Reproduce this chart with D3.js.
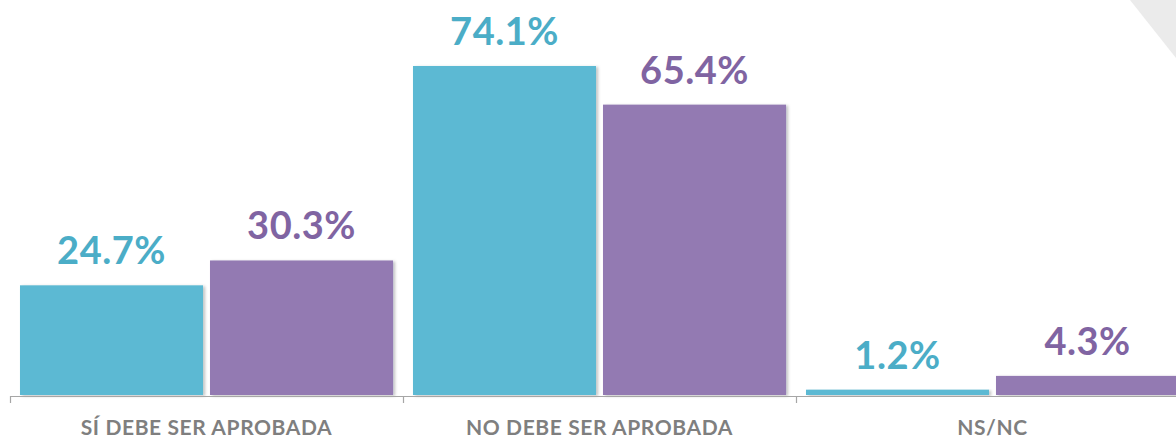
<!DOCTYPE html>
<html>
<head>
<meta charset="utf-8">
<script src="https://cdn.jsdelivr.net/npm/d3@7"></script>
<style>
  body { margin: 0; background: #fff; }
  svg { display: block; font-family: 'Lato', 'Open Sans', sans-serif; }
</style>
</head>
<body>
<div id="vis"></div>
<script>
var categories = ['SÍ DEBE SER APROBADA', 'NO DEBE SER APROBADA', 'NS/NC'];
var seriesNames = ['2019', '2020'];
var seriesA = [24.7, 74.1, 1.2];
var seriesB = [30.3, 65.4, 4.3];

var width = 1176;
var height = 438;

var barColor = ['#5bb9d3', '#937ab2'];
var labelColor = ['#4badc7', '#8064a2'];

var svg = d3.select('#vis')
  .append('svg')
  .attr('width', width)
  .attr('height', height);

// soft shadow on bars
var defs = svg.append('defs');
var f = defs.append('filter').attr('id', 'shadow')
  .attr('x', '-5%').attr('y', '-5%').attr('width', '115%').attr('height', '115%');
f.append('feDropShadow')
  .attr('dx', 2).attr('dy', 1).attr('stdDeviation', 1.5)
  .attr('flood-color', '#000').attr('flood-opacity', 0.25);

// decorative corner
svg.append('polygon')
  .attr('points', '1130,0 1176,0 1176,58')
  .attr('fill', '#ebebeb');

var x0 = d3.scaleBand()
  .domain(categories)
  .range([10, 10 + 393 * 3])
  .paddingInner(0)
  .paddingOuter(0);

var x1 = d3.scaleBand()
  .domain(seriesNames)
  .range([0, x0.bandwidth()])
  .paddingInner(0.0368)
  .paddingOuter(0.0526);

var y = d3.scaleLinear()
  .domain([0, 80])
  .range([395, 395 - 80 * 4.44]);

var rows = categories.map(function (c, i) {
  return { cat: c, values: [seriesA[i], seriesB[i]] };
});

var groups = svg.selectAll('.group')
  .data(rows)
  .enter().append('g')
  .attr('class', 'group')
  .attr('transform', function (d) { return 'translate(' + x0(d.cat) + ',0)'; });

var bars = groups.selectAll('.bar')
  .data(function (d) {
    return d.values.map(function (v, j) { return { s: seriesNames[j], j: j, v: v }; });
  })
  .enter();

bars.append('rect')
  .attr('class', 'bar')
  .attr('x', function (d) { return x1(d.s); })
  .attr('y', function (d) { return y(d.v); })
  .attr('width', x1.bandwidth())
  .attr('height', function (d) { return y(0) - y(d.v); })
  .attr('fill', function (d) { return barColor[d.j]; })
  .attr('filter', 'url(#shadow)');

bars.append('text')
  .attr('x', function (d) { return x1(d.s) + x1.bandwidth() / 2; })
  .attr('y', function (d) { return y(d.v) - 21; })
  .attr('text-anchor', 'middle')
  .attr('font-size', 38)
  .attr('font-weight', 'bold')
  .attr('letter-spacing', 0.5)
  .attr('fill', function (d) { return labelColor[d.j]; })
  .text(function (d) { return d.v.toFixed(1) + '%'; });

// axis
var axis = d3.axisBottom(x0)
  .tickSize(0)
  .tickPadding(0);

var gx = svg.append('g')
  .attr('transform', 'translate(0,396)')
  .call(axis);

gx.select('.domain').attr('stroke', '#a6a6a6').attr('stroke-width', 1.2)
  .attr('d', 'M10.5,7V0.5H' + width);

gx.selectAll('.tick text')
  .attr('y', 39)
  .attr('dy', 0)
  .attr('fill', '#7f7f7f')
  .attr('font-size', 21)
  .attr('font-weight', 'bold')
  .attr('letter-spacing', 0.6)
  .attr('font-family', "'Lato', 'Open Sans', sans-serif");

// group separators
gx.selectAll('.sep')
  .data(categories.slice(1))
  .enter().append('line')
  .attr('class', 'sep')
  .attr('x1', function (d) { return x0(d) + 0.5; })
  .attr('x2', function (d) { return x0(d) + 0.5; })
  .attr('y1', 0)
  .attr('y2', 7)
  .attr('stroke', '#a6a6a6')
  .attr('stroke-width', 1.2);
</script>
</body>
</html>
